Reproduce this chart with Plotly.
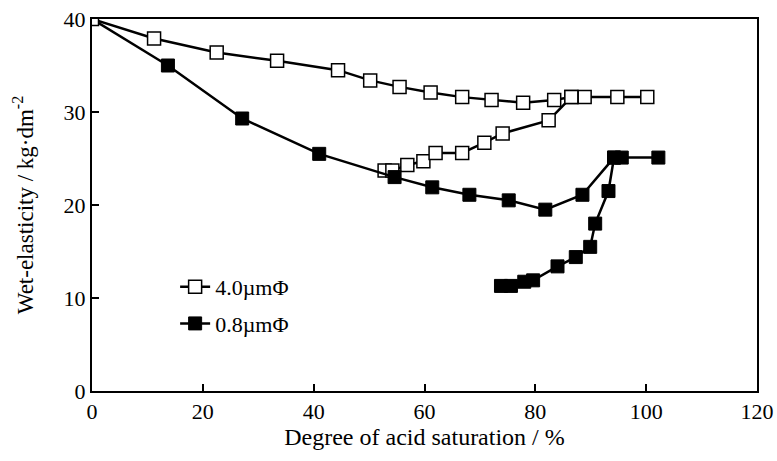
import plotly.graph_objects as go

# 4.0 um Phi (open squares)
open_main_x = [0, 11.2, 22.5, 33.4, 44.4, 50.2, 55.5, 61.1, 66.8, 72.1, 77.8, 83.4, 86.5, 88.9, 94.8, 100.2]
open_main_y = [40, 37.9, 36.4, 35.5, 34.5, 33.4, 32.7, 32.1, 31.6, 31.3, 31.0, 31.3, 31.6, 31.6, 31.6, 31.6]
open_branch_x = [52.8, 54.2, 56.9, 59.8, 62.0, 66.8, 70.8, 74.1, 82.4, 86.5]
open_branch_y = [23.7, 23.7, 24.3, 24.7, 25.6, 25.6, 26.7, 27.7, 29.1, 31.6]

# 0.8 um Phi (filled squares)
fill_main_x = [0, 13.7, 27.1, 41.0, 54.6, 61.4, 68.1, 75.2, 81.8, 88.5, 94.2, 95.6, 102.2]
fill_main_y = [40, 35.0, 29.3, 25.5, 23.0, 21.9, 21.1, 20.5, 19.5, 21.1, 25.1, 25.1, 25.1]
fill_branch_x = [73.8, 75.6, 78.0, 79.6, 84.0, 87.3, 89.9, 90.8, 93.2, 94.2]
fill_branch_y = [11.3, 11.3, 11.75, 11.9, 13.4, 14.4, 15.5, 18.0, 21.5, 25.1]

x_ticks = [0, 20, 40, 60, 80, 100, 120]
y_ticks = [0, 10, 20, 30, 40]

FONT = "Liberation Serif, Times New Roman, serif"
LW = 2.5
MS = 13

open_marker = dict(symbol="square", size=MS, color="white", line=dict(color="black", width=1.5))
fill_marker = dict(symbol="square", size=MS, color="black", line=dict(color="black", width=1))

fig = go.Figure()
# first segment of the filled series (line only, drawn beneath the open square at the origin)
fig.add_trace(go.Scatter(x=fill_main_x[:2], y=fill_main_y[:2], mode="lines",
                         line=dict(color="black", width=LW), showlegend=False, hoverinfo="skip"))
fig.add_trace(go.Scatter(x=open_main_x, y=open_main_y, mode="lines+markers", name="4.0µmΦ",
                         line=dict(color="black", width=LW), marker=open_marker,
                         legendgroup="a", legendrank=1))
fig.add_trace(go.Scatter(x=open_branch_x, y=open_branch_y, mode="lines+markers", name="4.0µmΦ",
                         line=dict(color="black", width=LW), marker=open_marker,
                         legendgroup="a", showlegend=False))
fig.add_trace(go.Scatter(x=fill_main_x[1:], y=fill_main_y[1:], mode="lines+markers", name="0.8µmΦ",
                         line=dict(color="black", width=LW), marker=fill_marker,
                         legendgroup="b", legendrank=2))
fig.add_trace(go.Scatter(x=fill_branch_x, y=fill_branch_y, mode="lines+markers", name="0.8µmΦ",
                         line=dict(color="black", width=LW), marker=fill_marker,
                         legendgroup="b", showlegend=False))

axis_common = dict(showgrid=False, zeroline=False, showline=True, linecolor="black", linewidth=2,
                   mirror=True, ticks="inside", ticklen=7, tickwidth=2, tickcolor="black",
                   automargin=False,
                   tickfont=dict(family=FONT, size=22, color="black"))

fig.update_layout(
    width=777, height=461,
    margin=dict(l=92, r=20, t=19, b=70),
    paper_bgcolor="white", plot_bgcolor="white",
    font=dict(family=FONT, color="black"),
    xaxis=dict(range=[0, 120], tickvals=x_ticks, ticktext=[str(v) for v in x_ticks],
               title=dict(text="Degree of acid saturation / %", font=dict(family=FONT, size=24), standoff=0),
               **axis_common),
    yaxis=dict(range=[0, 40], tickvals=y_ticks, ticktext=[str(v) for v in y_ticks],
               title=dict(text="Wet-elasticity / kg·dm<sup>-2</sup>", font=dict(family=FONT, size=23), standoff=24),
               **axis_common),
    legend=dict(x=0.125, y=0.336, xanchor="left", yanchor="top", bgcolor="rgba(0,0,0,0)",
                font=dict(family=FONT, size=22, color="black"), traceorder="grouped",
                tracegroupgap=5),
)

fig.write_html("out.html", config={"displayModeBar": False},
               post_script="document.body.style.margin='0';document.body.style.overflow='hidden';")
